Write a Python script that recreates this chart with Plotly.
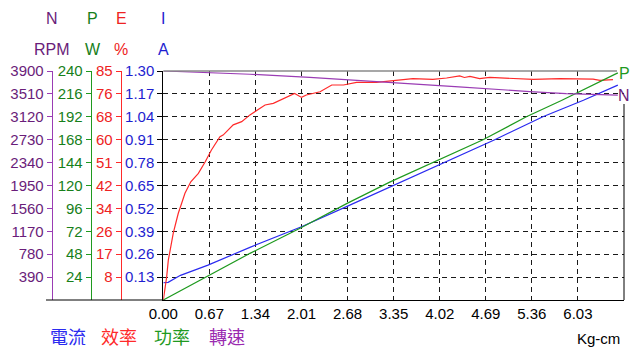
import plotly.graph_objects as go

# ---------------- data ----------------
x_ticktext = ["0.00", "0.67", "1.34", "2.01", "2.68", "3.35", "4.02", "4.69", "5.36", "6.03"]
x_step = 0.67
x_max = 6.70

torque_i = [0.00, 0.07, 0.25, 0.65, 1.26, 2.01, 2.68, 3.30, 4.09, 4.82, 5.52, 6.11, 6.61]
current = [0.098, 0.100, 0.140, 0.198, 0.299, 0.416, 0.533, 0.643, 0.78, 0.91, 1.04, 1.134, 1.22]

torque_p = [0.00, 0.65, 1.26, 2.01, 2.68, 3.30, 3.92, 4.65, 5.28, 5.79, 6.61]
power = [0, 25, 48.9, 76, 101.5, 123.8, 144, 168, 192, 209, 238]

torque_n = [0.00, 1.26, 2.13, 2.72, 3.15, 4.30, 5.33, 5.86, 6.61]
speed = [3900, 3845, 3790, 3750, 3710, 3630, 3550, 3515, 3490]

torque_e = [0.00, 0.025, 0.049, 0.073, 0.107, 0.145, 0.18, 0.218, 0.267, 0.315, 0.40,
            0.51, 0.61, 0.70, 0.824, 0.87, 1.017, 1.14, 1.26, 1.33, 1.48, 1.60, 1.74,
            1.91, 2.01, 2.08, 2.28, 2.45, 2.62, 2.81, 3.10, 3.30, 3.63, 3.92, 4.12,
            4.31, 4.38, 4.46, 4.60, 4.75, 5.09, 5.38, 5.77, 6.06, 6.25, 6.35, 6.54]
eff = [0, 3.7, 8.6, 14.8, 19.8, 24.8, 28.4, 32.2, 35.9, 39.6, 43.9,
       47.0, 51.3, 55.7, 60.6, 61.2, 65.0, 66.2, 68.7, 69.9, 72.4, 73.0, 74.8,
       76.7, 75.2, 76.1, 77.3, 79.8, 79.8, 80.8, 80.8, 81.4, 82.2, 81.9, 82.4,
       83.2, 82.6, 83.0, 82.2, 82.6, 82.2, 81.9, 82.2, 82.2, 82.0, 81.5, 81.8]

i_ticktext = ["0.13", "0.26", "0.39", "0.52", "0.65", "0.78", "0.91", "1.04", "1.17", "1.30"]
e_ticktext = ["8", "17", "26", "34", "42", "51", "60", "68", "76", "85"]
p_ticktext = ["24", "48", "72", "96", "120", "144", "168", "192", "216", "240"]
n_ticktext = ["390", "780", "1170", "1560", "1950", "2340", "2730", "3120", "3510", "3900"]
i_max, e_max, p_max, n_max = 1.30, 85, 240, 3900

legend_labels = ["電流", "效率", "功率", "轉速"]

# ---------------- style ----------------
C_I = "#2b2bf0"
C_E = "#ff2a2a"
C_P = "#1f9a1f"
C_N = "#9a3cb4"
T_I = "#1e1ed0"
T_E = "#ee2222"
T_P = "#17801a"
T_N = "#6a1d7a"
FONT = "Liberation Sans, Arial, sans-serif"
CJK = "Noto Sans CJK TC, sans-serif"

W, H = 640, 350
ML, MR, MT, MB = 0, 16, 71, 50
PW = W - ML - MR
PLOT_L = 163.3

def px(x):
    return x / PW

def ticks(vmax):
    return [vmax * k / 10 for k in range(1, 11)]

fig = go.Figure()
fig.add_trace(go.Scatter(x=torque_i, y=current, mode="lines", line=dict(color=C_I, width=1.2),
                         yaxis="y", showlegend=False))
fig.add_trace(go.Scatter(x=torque_p, y=power, mode="lines", line=dict(color=C_P, width=1.2),
                         yaxis="y3", showlegend=False))
fig.add_trace(go.Scatter(x=torque_n, y=speed, mode="lines", line=dict(color=C_N, width=1.2),
                         yaxis="y4", showlegend=False))
fig.add_trace(go.Scatter(x=torque_e, y=eff, mode="lines", line=dict(color=C_E, width=1.2),
                         yaxis="y2", showlegend=False))

grid = dict(showgrid=True, gridcolor="#1a1a1a", gridwidth=1, griddash="5px,4px")

fig.update_layout(
    width=W, height=H,
    margin=dict(l=ML, r=MR, t=MT, b=MB, pad=0, autoexpand=False),
    paper_bgcolor="white", plot_bgcolor="white",
    font=dict(family=FONT, size=15, color="black"),
    xaxis=dict(domain=[px(PLOT_L), 1], range=[0, x_max], automargin=False,
               tickvals=[x_step * k for k in range(len(x_ticktext))], ticktext=x_ticktext,
               ticks="", showline=True, linecolor="black", linewidth=1, zeroline=False,
               tickfont=dict(size=15, color="black"), **grid),
    yaxis=dict(range=[0, i_max], tickvals=ticks(i_max), ticktext=i_ticktext, automargin=False,
               side="left", showline=True, linecolor="black", linewidth=1,
               ticks="outside", ticklen=5, tickcolor="black", zeroline=False,
               tickfont=dict(size=15, color=T_I), **grid),
    yaxis2=dict(range=[0, e_max], tickvals=ticks(e_max), ticktext=e_ticktext, automargin=False,
                overlaying="y", anchor="free", position=px(120.7), side="left",
                showline=True, linecolor=C_E, linewidth=1, ticks="outside", ticklen=5,
                tickcolor=C_E, showgrid=False, zeroline=False,
                tickfont=dict(size=15, color=T_E)),
    yaxis3=dict(range=[0, p_max], tickvals=ticks(p_max), ticktext=p_ticktext, automargin=False,
                overlaying="y", anchor="free", position=px(90.7), side="left",
                showline=True, linecolor=C_P, linewidth=1, ticks="outside", ticklen=5,
                tickcolor=C_P, showgrid=False, zeroline=False,
                tickfont=dict(size=15, color=T_P)),
    yaxis4=dict(range=[0, n_max], tickvals=ticks(n_max), ticktext=n_ticktext, automargin=False,
                overlaying="y", anchor="free", position=px(51.7), side="left",
                showline=True, linecolor=C_N, linewidth=1, ticks="outside", ticklen=5,
                tickcolor=C_N, showgrid=False, zeroline=False,
                tickfont=dict(size=15, color=T_N)),
)

PH = H - MT - MB
def py(ypix):
    return (H - MB - ypix) / PH

shapes = [
    dict(type="line", xref="paper", yref="paper", x0=px(46), x1=px(PLOT_L), y0=0, y1=0,
         line=dict(color="black", width=1)),
    dict(type="line", xref="paper", yref="paper", x0=px(PLOT_L), x1=px(617), y0=1, y1=1,
         line=dict(color="#8a8a8a", width=1.5)),
    dict(type="line", xref="paper", yref="paper", x0=1, x1=1, y0=0, y1=py(104),
         line=dict(color="black", width=1)),
]
fig.update_layout(shapes=shapes)

ann = []
headers = [("N", "RPM", 52, T_N), ("P", "W", 92.5, T_P), ("E", "%", 121, T_E), ("I", "A", 163, T_I)]
for top, unit, xc, col in headers:
    ann.append(dict(text=top, x=px(xc), y=py(18), xref="paper", yref="paper",
                    showarrow=False, xanchor="center", yanchor="middle",
                    font=dict(size=16, color=col, family=FONT)))
    ann.append(dict(text=unit, x=px(xc), y=py(49), xref="paper", yref="paper",
                    showarrow=False, xanchor="center", yanchor="middle",
                    font=dict(size=16, color=col, family=FONT)))

leg_cols = [C_I, C_E, C_P, "#9a2ab0"]
leg_x = [67.5, 119, 172, 227]
for lab, col, xc in zip(legend_labels, leg_cols, leg_x):
    ann.append(dict(text=lab, x=px(xc), y=py(336), xref="paper", yref="paper",
                    showarrow=False, xanchor="center", yanchor="middle",
                    font=dict(size=18, color=col, family=CJK)))

ann.append(dict(text="Kg-cm", x=px(598), y=py(338), xref="paper", yref="paper",
                showarrow=False, xanchor="center", yanchor="middle",
                font=dict(size=15, color="black", family=FONT)))
ann.append(dict(text="P", x=px(624), y=py(73), xref="paper", yref="paper",
                showarrow=False, xanchor="center", yanchor="middle",
                font=dict(size=16, color=C_P, family=FONT)))
ann.append(dict(text="N", x=px(624), y=py(95), xref="paper", yref="paper",
                showarrow=False, xanchor="center", yanchor="middle",
                font=dict(size=16, color=T_N, family=FONT)))
fig.update_layout(annotations=ann)

fig.write_html("out.html")
